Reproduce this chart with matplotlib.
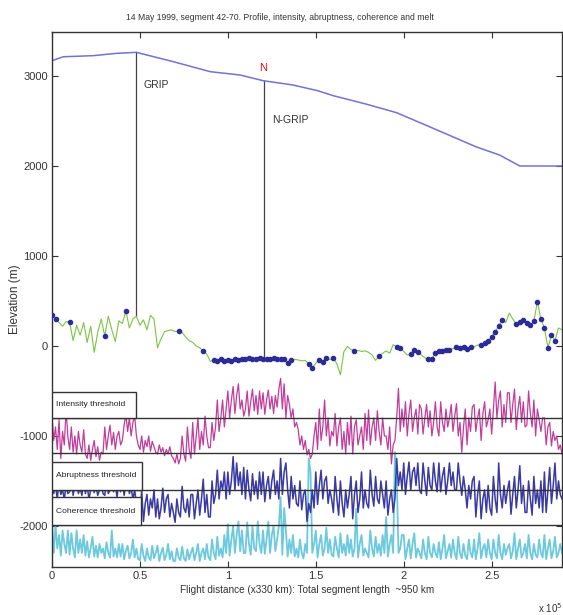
import numpy as np
import matplotlib
matplotlib.use('Agg')
import matplotlib.pyplot as plt
from matplotlib import font_manager
from matplotlib.patches import Rectangle

# pick a narrow sans if there is one
fam = 'DejaVu Sans'
for f in ['Liberation Sans Narrow', 'Liberation Sans', 'Arial']:
    try:
        font_manager.findfont(f, fallback_to_default=False)
        fam = f
        break
    except Exception:
        pass
plt.rcParams['font.family'] = [fam, 'DejaVu Sans']
plt.rcParams['axes.unicode_minus'] = False

# surface profile (x in units of 1e5)
profile_x = [0.0, 0.064, 0.235, 0.367, 0.48, 0.69, 0.9, 1.07, 1.2, 1.37, 1.51, 1.6,
             1.79, 1.96, 2.11, 2.26, 2.41, 2.545, 2.66, 2.9]
profile_elev = [3170, 3214, 3226, 3252, 3263, 3159, 3048, 3011, 2948, 2900, 2837, 2781,
                2686, 2592, 2467, 2341, 2214, 2122, 2000, 2000]

# bed track, step 0.02
bed_x = np.round(np.arange(0, 2.9001, 0.02), 2)
bed = [340, 300, 260, 220, 270,
       265, 60, 230, 120, 260,
       40, 220, -70, 150, 300,
       110, 330, 180, 50, 280,
       250, 390, 200, 300, 330,
       230, 290, 180, 340, 300,
       -20, 80, 160, 170, 180,
       160, 165, 150, 100, 60,
       40, 0, -20, -55, -90,
       -170, -160, -170, -150, -165,
       -155, -170, -150, -160, -145,
       -140, -135, -150, -140, -135,
       -145, -140, -150, -135, -145,
       -150, -145, -190, -160, -150,
       -155, -165, -160, -200, -245,
       -190, -160, -175, -130, -150,
       -130, -200, -320, -60, -5,
       -40, -55, -50, -60, -55,
       -70, -100, -160, -110, -80,
       -55, -80, 15, -10, -20,
       -60, -100, -90, -45, -70,
       -100, -130, -150, -140, -80,
       -55, -60, -50, -40, -30,
       -10, -20, -15, -30, -10,
       -10, 10, 15, 30, 60,
       100, 160, 220, 290, 260,
       365, 300, 240, 270, 290,
       260, 230, 280, 490, 300,
       200, -20, 120, 60, 200,
       180]

melt_ranges = [(0.0, 0.02), (0.1, 0.1), (0.3, 0.3), (0.42, 0.42), (0.72, 0.72),
               (0.86, 0.86), (0.92, 1.36), (1.46, 1.48), (1.52, 1.56), (1.6, 1.6),
               (1.72, 1.72), (1.86, 1.86), (1.96, 1.98), (2.04, 2.08), (2.14, 2.26),
               (2.3, 2.38), (2.44, 2.56), (2.64, 2.86)]

# radar tracks, step 0.01
track_x = np.round(np.arange(0, 2.9001, 0.01), 2)

intensity = [
    -780, -1050, -900, -1150, -820, -1250, -950, -1100, -705, -1000,
    -1150, -900, -1180, -1000, -1200, -950, -1100, -1180, -930, -1200,
    -1250, -1100, -1270, -1150, -1050, -1230, -1120, -1270, -1180, -1200,
    -900, -1150, -1000, -880, -1100, -960, -1150, -1000, -950, -1100,
    -1050, -880, -760, -950, -800, -1000, -850, -780, -1000, -1100,
    -1150, -1000, -1180, -1050, -1120, -1000, -1170, -1060, -1120, -1180,
    -1200, -1100, -1180, -1130, -1220, -1150, -1200, -1120, -1220, -1250,
    -1300, -1200, -1310, -1250, -1000, -1200, -1280, -900, -1150, -1250,
    -850, -1200, -1000, -800, -1150, -950, -1100, -780, -1000, -1130,
    -1130, -850, -1050, -900, -600, -950, -800, -600, -900, -700,
    -500, -800, -600, -450, -750, -550, -420, -700, -600, -780,
    -700, -500, -780, -620, -480, -720, -550, -760, -500, -700,
    -520, -760, -600, -490, -700, -560, -750, -550, -680, -480,
    -360, -700, -420, -800, -550, -650, -800, -700, -900, -850,
    -930, -1100, -1000, -1150, -1050, -1210, -1150, -1250, -1200, -1000,
    -850, -1150, -700, -1050, -900, -600, -1000, -800, -1110, -950,
    -1000, -750, -1110, -900, -800, -1150, -950, -1200, -850, -1100,
    -780, -1200, -900, -820, -1100, -1000, -900, -1150, -750, -1050,
    -710, -1100, -900, -800, -1050, -720, -950, -1100, -800, -1000,
    -1000, -1150, -900, -1310, -1100, -1050, -800, -470, -950, -700,
    -900, -620, -1000, -750, -600, -950, -800, -700, -980, -650,
    -700, -980, -800, -650, -900, -720, -1000, -850, -620, -900,
    -1000, -620, -850, -950, -700, -900, -800, -650, -950, -780,
    -640, -1000, -850, -1180, -900, -700, -1100, -800, -950, -680,
    -650, -950, -800, -700, -1050, -750, -620, -900, -820, -700,
    -980, -700, -400, -800, -600, -500, -900, -650, -850, -520,
    -520, -850, -650, -480, -930, -700, -560, -850, -620, -900,
    -880, -500, -750, -900, -600, -1000, -700, -820, -950, -800,
    -800, -1100, -900, -850, -1110, -950, -1050, -1000, -1150, -1100,
    -1200]

abruptness = [
    -1450, -1640, -1550, -1700, -1500, -1650, -1600, -1700, -1550, -1640,
    -1620, -1400, -1660, -1550, -1500, -1640, -1580, -1660, -1500, -1640,
    -1550, -1700, -1600, -1450, -1630, -1550, -1660, -1600, -1500, -1640,
    -1660, -1500, -1640, -1600, -1400, -1620, -1550, -1680, -1500, -1620,
    -1500, -1660, -1550, -1450, -1640, -1580, -1700, -1600, -1750, -1850,
    -1900, -1600, -1950, -1750, -1650, -1880, -1700, -1800, -1600, -1900,
    -1700, -1920, -1800, -1580, -1850, -1700, -1650, -1900, -1750, -1850,
    -1960, -1700, -1850, -1900, -1560, -1800, -1850, -1700, -1900, -1650,
    -1650, -1920, -1750, -1600, -1880, -1700, -1480, -1850, -1650, -1900,
    -1900, -1500, -1750, -1650, -1380, -1700, -1500, -1600, -1400, -1700,
    -1400, -1650, -1500, -1230, -1600, -1300, -1550, -1400, -1650, -1350,
    -1700, -1380, -1600, -1720, -1420, -1650, -1500, -1700, -1400, -1650,
    -1400, -1730, -1550, -1450, -1700, -1500, -1380, -1650, -1500, -1700,
    -1250, -1650, -1400, -1300, -1600, -1800, -1450, -1700, -1550, -1750,
    -1780, -1500, -1820, -1650, -1600, -1950, -1750, -1850, -1600, -1800,
    -1400, -1760, -1550, -1380, -1700, -1500, -1450, -1750, -1600, -1700,
    -1850, -1450, -1700, -1880, -1500, -1750, -1900, -1600, -1800, -1650,
    -1450, -1920, -1650, -1500, -1850, -1700, -1400, -1800, -1600, -1750,
    -1800, -1380, -1650, -1780, -1450, -1700, -1750, -1500, -1650, -1800,
    -1500, -1880, -1700, -1600, -1850, -1700, -1250, -1550, -1400, -1600,
    -1300, -1650, -1450, -1290, -1600, -1400, -1350, -1550, -1300, -1600,
    -1640, -1300, -1500, -1660, -1350, -1550, -1600, -1300, -1500, -1620,
    -1300, -1620, -1450, -1350, -1650, -1500, -1300, -1550, -1400, -1600,
    -1600, -1300, -1500, -1660, -1450, -1600, -1800, -1550, -1700, -1500,
    -1450, -1900, -1650, -1500, -1920, -1700, -1600, -1850, -1550, -1800,
    -1880, -1450, -1700, -1850, -1300, -1650, -1800, -1550, -1750, -1600,
    -1500, -1870, -1650, -1450, -1800, -1600, -1330, -1750, -1550, -1850,
    -1850, -1500, -1700, -1880, -1450, -1750, -1600, -1800, -1500, -1850,
    -1400, -1850, -1600, -1350, -1750, -1550, -1300, -1700, -1500, -1650,
    -1700]

coherence = [
    -2000, -2300, -1980, -2250, -2100, -2330, -2050, -2200, -2300, -2050,
    -2320, -2080, -2250, -2350, -2050, -2300, -2150, -2300, -2100, -2330,
    -2170, -2350, -2250, -2120, -2340, -2220, -2350, -2200, -2300, -2250,
    -2360, -2180, -2300, -2350, -2050, -2340, -2250, -2350, -2200, -2340,
    -2200, -2370, -2280, -2220, -2360, -2300, -2150, -2350, -2250, -2370,
    -2380, -2200, -2330, -2390, -2250, -2350, -2380, -2220, -2360, -2300,
    -2220, -2390, -2300, -2240, -2380, -2320, -2200, -2370, -2280, -2390,
    -2390, -2250, -2350, -2380, -2230, -2360, -2390, -2260, -2370, -2300,
    -2240, -2380, -2300, -2200, -2390, -2300, -2250, -2370, -2200, -2350,
    -2380, -2150, -2300, -2370, -2120, -2330, -2250, -2350, -2100, -2300,
    -1980, -2330, -2150, -2000, -2300, -2100, -1950, -2280, -2050, -2300,
    -2300, -1960, -2200, -2320, -2000, -2250, -2280, -1950, -2200, -2300,
    -2050, -2310, -2150, -1950, -2300, -2100, -2000, -2280, -2150, -2000,
    -1680, -2320, -1800, -2050, -2340, -2150, -2300, -2100, -2340, -2250,
    -2350, -2150, -2300, -2360, -2200, -2300, -1250, -1400, -2300, -2200,
    -2050, -2350, -2200, -2100, -2330, -2250, -2020, -2300, -2150, -2320,
    -2340, -2120, -2250, -2350, -2080, -2300, -2200, -2330, -2100, -2300,
    -2150, -2340, -2250, -1810, -2350, -2200, -2100, -2330, -2250, -2300,
    -2350, -2050, -2250, -2340, -2120, -2300, -2200, -2330, -2100, -2300,
    -1900, -2340, -2200, -2100, -2300, -1180, -1400, -2300, -2250, -2100,
    -2100, -2370, -2250, -2150, -2360, -2200, -2080, -2350, -2250, -2300,
    -2360, -2150, -2300, -2370, -2120, -2300, -2350, -2200, -2300, -2350,
    -2180, -2370, -2250, -2100, -2360, -2280, -2200, -2350, -2150, -2300,
    -2370, -2120, -2300, -2360, -2200, -2330, -2370, -2150, -2300, -2350,
    -2150, -2370, -2250, -2080, -2360, -2250, -2200, -2350, -2150, -2300,
    -2370, -2150, -2300, -2360, -2100, -2300, -2370, -2200, -2320, -2250,
    -2200, -2360, -2280, -2080, -2370, -2250, -2150, -2350, -2300, -2200,
    -2360, -2100, -2300, -2370, -2200, -2320, -2350, -2150, -2300, -2350,
    -2100, -2370, -2250, -2150, -2360, -2280, -2120, -2350, -2300, -2200,
    -2300]

threshold_lines = [-800, -1190, -1600, -1990]

fig = plt.figure(figsize=(5.63, 6.15), dpi=100)
ax = fig.add_axes([52 / 563, 48 / 615, 510 / 563, 535 / 615])

bed = np.array(bed)
melt = np.zeros(len(bed_x), dtype=bool)
for a, b in melt_ranges:
    melt |= (bed_x >= a - 1e-6) & (bed_x <= b + 1e-6)

ax.plot(track_x, coherence, color='#6cc9de', lw=1.3, zorder=2)
ax.plot(track_x, abruptness, color='#3a3aa2', lw=1.1, zorder=2)
ax.plot(track_x, intensity, color='#c23c9c', lw=0.9, zorder=2)
ax.plot(bed_x, bed, color='#7cc443', lw=0.8, zorder=2)
ax.plot(bed_x[melt], bed[melt], 'o', color='#2c2c98', ms=3.0, zorder=3)
ax.plot(profile_x, profile_elev, color='#7272d4', lw=1.1, zorder=2)

# ice core sites
ax.plot([0.477, 0.477], [3263, 330], color='#444444', lw=0.9, zorder=1)
ax.plot([1.205, 1.205], [2948, -130], color='#444444', lw=0.9, zorder=1)
ax.text(0.52, 2900, 'GRIP', fontsize=7.5, va='center', color='#333333')
ax.text(1.25, 2511, 'N-GRIP', fontsize=7.5, va='center', color='#333333')
ax.text(1.2, 3090, 'N', fontsize=8, va='center', ha='center', color='#e01010')

for yv in threshold_lines:
    ax.axhline(yv, color='#333333', lw=1.0, zorder=4)

boxes = [(0.48, -800, -511, 'Intensity threshold'),
         (0.51, -1600, -1289, 'Abruptness threshold'),
         (0.505, -1990, -1678, 'Coherence threshold')]
for w, y0, y1, label in boxes:
    ax.add_patch(Rectangle((0, y0), w, y1 - y0, facecolor='white',
                           edgecolor='#333333', lw=1.0, zorder=5))
    ax.text(0.025, (y0 + y1) / 2, label, fontsize=6.1, va='center', zorder=6, color='#222222')

ax.set_xlim(0, 2.9)
ax.set_ylim(-2456, 3489)
ax.set_xticks([0, 0.5, 1, 1.5, 2, 2.5])
ax.set_xticklabels(['0', '0.5', '1', '1.5', '2', '2.5'])
ax.set_yticks([-2000, -1000, 0, 1000, 2000, 3000])
ax.tick_params(direction='in', top=True, right=True, labelsize=8, length=4, width=0.8,
               colors='#333333', pad=3)
for s in ax.spines.values():
    s.set_color('#333333')
    s.set_linewidth(1.0)

ax.set_ylabel('Elevation (m)', fontsize=8.5, color='#333333')
ax.yaxis.set_label_coords(-0.061, 0.5)
ax.set_xlabel('Flight distance (x330 km): Total segment length  ~950 km', fontsize=7.2,
              color='#333333', labelpad=3)
fig.text(280 / 563, 1 - 18 / 615, '14 May 1999, segment 42-70. Profile, intensity, abruptness, coherence and melt',
         fontsize=6.2, ha='center', va='center', color='#333333')
fig.text(538 / 563, 1 - 608 / 615, 'x 10$^5$', fontsize=7, ha='left', va='center', color='#333333')

fig.savefig('out.png', dpi=100)
